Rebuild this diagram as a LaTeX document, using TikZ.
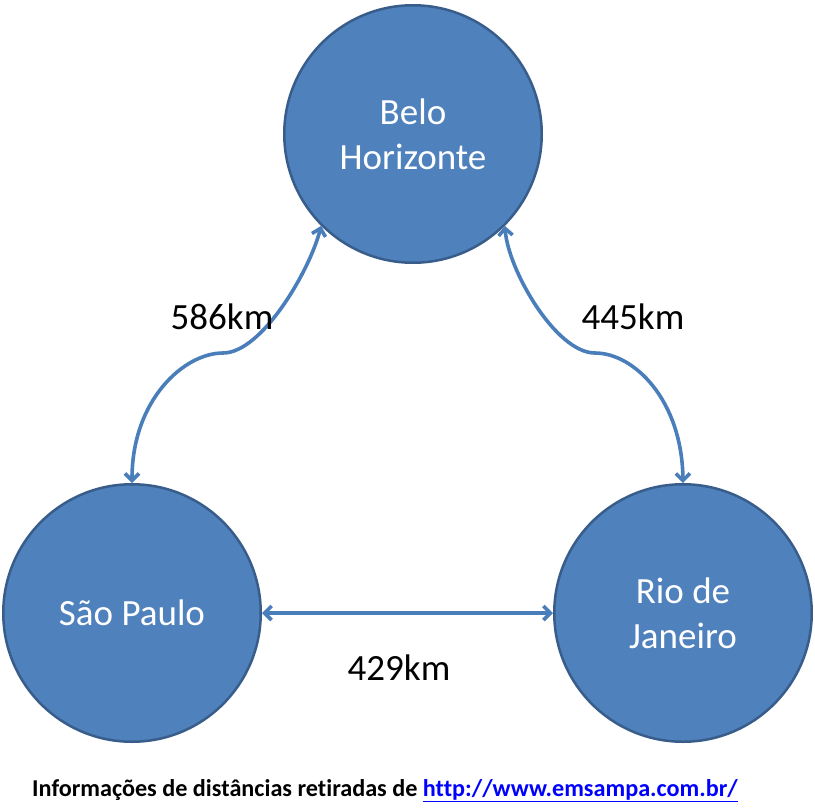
\documentclass[tikz,border=0pt]{standalone}
\usepackage{fontspec}
\setmainfont{Carlito}[Ligatures=NoCommon]
\usetikzlibrary{arrows.meta}
\definecolor{cfill}{HTML}{4F81BD}
\definecolor{cborder}{HTML}{385D8A}
\definecolor{carrow}{HTML}{4A7EBB}
\definecolor{linkblue}{HTML}{0000FF}
\tikzset{
  city/.style={circle, fill=cfill, draw=cborder, line width=2.5pt, minimum size=257.5pt, inner sep=0pt,
    text=white, align=center, font=\fontsize{37}{45}\selectfont},
  dist/.style={font=\fontsize{37}{44}\selectfont, text=black, inner sep=0pt},
  link/.style={draw=carrow, line width=3.6pt,
    {Straight Barb[length=7pt,width=14pt]}-{Straight Barb[length=7pt,width=14pt]}},
}
\begin{document}
\begin{tikzpicture}[x=1pt,y=-1pt]
\useasboundingbox (0,0) rectangle (815,812);
\node[city] (bh) at (413,134) {Belo\\Horizonte};
\node[city] (sp) at (132,613) {São Paulo};
\node[city] (rio) at (683,613) {Rio de\\Janeiro};
\coordinate (m1) at (223,353);
\coordinate (m2) at (595,353);
\draw[link] (bh.225) .. controls (310,270) and (262,353) .. (m1)
  .. controls (184,353) and (132,400) .. (sp.north);
\draw[link] (bh.-45) .. controls (508,270) and (556,353) .. (m2)
  .. controls (634,353) and (682,400) .. (rio.north);
\draw[link] (sp.east) -- (rio.west);
\node[dist] (d1) at (222,317) {586km};
\node[dist] (d2) at (633,317) {445km};
\node[dist] (d3) at (399,668) {429km};
\node[anchor=base west, inner sep=0pt, font=\fontsize{24.2}{28}\selectfont\bfseries] (src) at (32,796)
  {Informações de distâncias retiradas de {\color{linkblue}\underline{http://www.emsampa.com.br/}}};
\end{tikzpicture}
\end{document}
